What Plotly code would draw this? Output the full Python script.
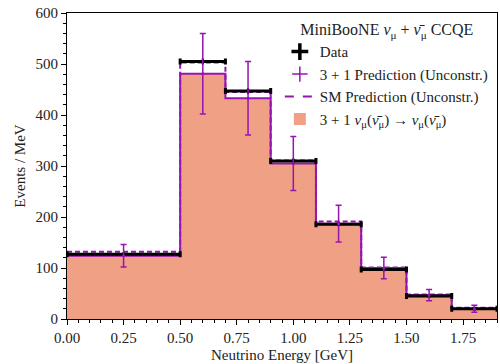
import plotly.graph_objects as go

bin_edges = [0.0, 0.5, 0.7, 0.9, 1.1, 1.3, 1.5, 1.7, 1.9]
data_vals = [127, 505, 447, 310, 186, 97, 45, 20]
data_err = [3, 6, 6, 5, 4, 3, 2, 1.5]
pred_31 = [124, 481, 433, 305, 187, 100, 47, 20]
pred_31_err = [22, 79, 72, 53, 36, 21, 11, 7]
sm_pred = [132, 503, 445, 311, 191, 101, 48, 22]
numu_disapp = [124, 481, 433, 305, 186, 98, 46, 20]

centers = [(a + b) / 2 for a, b in zip(bin_edges[:-1], bin_edges[1:])]
widths = [b - a for a, b in zip(bin_edges[:-1], bin_edges[1:])]
half_w = [w / 2 for w in widths]

PURPLE = "#9614B0"
FILL = "#F0A084"
FONT = "Liberation Serif, Times New Roman, serif"

fig = go.Figure()

fig.add_trace(go.Bar(x=centers, y=numu_disapp, width=widths, marker=dict(color=FILL, line_width=0),
                     showlegend=False))
fig.add_trace(go.Scatter(x=bin_edges, y=sm_pred + [sm_pred[-1]], mode="lines", line_shape="hv",
                         line=dict(color=PURPLE, width=2, dash="5px,3px"), showlegend=False))
fig.add_trace(go.Scatter(x=bin_edges, y=pred_31 + [pred_31[-1]], mode="lines", line_shape="hv",
                         line=dict(color=PURPLE, width=2), showlegend=False))
fig.add_trace(go.Scatter(x=centers, y=data_vals, mode="markers",
                         marker=dict(color="black", size=4),
                         error_x=dict(type="data", array=half_w, color="black", thickness=3, width=3),
                         error_y=dict(type="data", array=data_err, color="black", thickness=2, width=0),
                         showlegend=False))
fig.add_trace(go.Scatter(x=centers, y=pred_31, mode="markers",
                         marker=dict(color=PURPLE, size=3),
                         error_y=dict(type="data", array=pred_31_err, color=PURPLE, thickness=1.5, width=3),
                         showlegend=False))

# legend entries
fig.add_trace(go.Scatter(x=[None], y=[None], mode="markers", name="Data",
                         marker=dict(symbol="cross-thin", size=12, line=dict(color="black", width=3.5))))
fig.add_trace(go.Scatter(x=[None], y=[None], mode="markers", name="3 + 1 Prediction (Unconstr.)",
                         marker=dict(symbol="cross-thin", size=11, line=dict(color=PURPLE, width=1.5))))
fig.add_trace(go.Scatter(x=[None], y=[None], mode="lines", name="SM Prediction (Unconstr.)",
                         line=dict(color=PURPLE, width=2, dash="dash")))
fig.add_trace(go.Bar(x=[None], y=[None], name="3 + 1 <i>ν</i><sub>μ</sub>(<i>ν̄</i><sub>μ</sub>) → <i>ν</i><sub>μ</sub>(<i>ν̄</i><sub>μ</sub>)",
                     marker=dict(color=FILL, line_width=0)))

axis_common = dict(showline=True, linecolor="black", linewidth=1.2, mirror=True,
                   ticks="outside", ticklen=5, tickwidth=1, tickcolor="black",
                   showgrid=False, zeroline=False,
                   tickfont=dict(family=FONT, size=15, color="#222"))

fig.update_xaxes(range=[0, 1.9], dtick=0.25, tickformat=".2f",
                 minor=dict(dtick=0.05, ticks="outside", ticklen=3, tickcolor="black"),
                 title=dict(text="Neutrino Energy [GeV]", font=dict(family=FONT, size=15, color="#222"), standoff=4),
                 **axis_common)
fig.update_yaxes(range=[0, 600], dtick=100,
                 minor=dict(dtick=20, ticks="outside", ticklen=3, tickcolor="black"),
                 title=dict(text="Events / MeV", font=dict(family=FONT, size=15, color="#222"), standoff=6),
                 **axis_common)

fig.update_layout(
    width=500, height=364,
    margin=dict(l=67, r=3, t=13, b=45),
    plot_bgcolor="white", paper_bgcolor="white",
    barmode="overlay", bargap=0,
    font=dict(family=FONT, size=15, color="#222"),
    legend=dict(x=0.495, xanchor="left", y=0.995, yanchor="top",
                bgcolor="rgba(0,0,0,0)", tracegroupgap=0,
                title=dict(text="MiniBooNE <i>ν</i><sub>μ</sub> + <i>ν̄</i><sub>μ</sub> CCQE",
                           font=dict(family=FONT, size=16), side="top center"),
                font=dict(family=FONT, size=15)),
)

fig.write_html("out.html", config={"displayModeBar": False},
               post_script="document.body.style.margin='0';document.body.style.padding='0';")
